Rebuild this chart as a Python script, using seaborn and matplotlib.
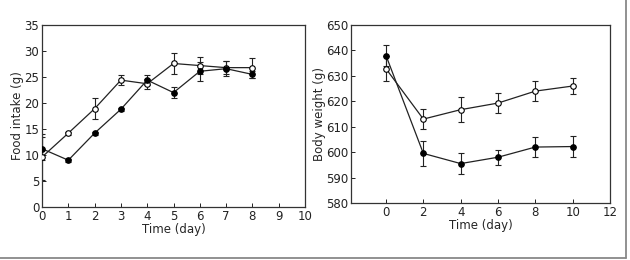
import matplotlib
matplotlib.use('Agg')
import matplotlib.pyplot as plt
import seaborn as sns
import pandas as pd
import numpy as np
from matplotlib.lines import Line2D

# food intake, days 0-8
days_food = [0, 1, 2, 3, 4, 5, 6, 7, 8]
food_filled = [11.2, 9.0, 14.2, 18.8, 24.4, 22.0, 26.1, 26.6, 25.5]
food_filled_err = [2.2, 0.3, 0.3, 0.3, 1.0, 1.0, 1.8, 1.4, 0.6]
food_open = [9.6, 14.2, 18.9, 24.4, 23.7, 27.6, 27.2, 26.8, 26.8]
food_open_err = [4.5, 0.3, 2.0, 0.9, 1.0, 2.0, 1.7, 1.3, 1.9]

# body weight, days 0-10
days_bw = [0, 2, 4, 6, 8, 10]
bw_open = [632.8, 613.0, 616.7, 619.3, 624.0, 626.0]
bw_open_err = [5.0, 4.0, 5.0, 4.0, 4.0, 3.0]
bw_filled = [638.0, 599.5, 595.5, 598.0, 602.0, 602.2]
bw_filled_err = [4.0, 5.0, 4.0, 3.0, 4.0, 4.0]

sns.set_style('ticks')
plt.rcParams['font.family'] = ['DejaVu Sans']
plt.rcParams['font.size'] = 8.5

fig = plt.figure(figsize=(6.3, 2.6), dpi=100)
ax1 = fig.add_axes([42/630, 1-207/260, 263/630, 182/260])
ax2 = fig.add_axes([351/630, 1-203/260, 259/630, 178/260])


def draw(ax, x, y, e, filled):
    ax.errorbar(x, y, yerr=e, fmt='none', ecolor='#222222', elinewidth=0.8,
                capsize=2, capthick=0.8, zorder=2)
    sns.lineplot(x=x, y=y, ax=ax, color='#222222', lw=0.9, marker='o',
                 markersize=4, markerfacecolor='black' if filled else 'white',
                 markeredgecolor='black', markeredgewidth=0.8, zorder=3)


draw(ax1, days_food, food_open, food_open_err, False)
draw(ax1, days_food, food_filled, food_filled_err, True)
draw(ax2, days_bw, bw_open, bw_open_err, False)
draw(ax2, days_bw, bw_filled, bw_filled_err, True)

ax1.set_xlim(0, 10)
ax1.set_ylim(0, 35)
ax1.set_xticks(range(0, 11))
ax1.set_yticks(range(0, 36, 5))
ax1.set_xlabel('Time (day)', labelpad=0)
ax1.set_ylabel('Food intake (g)', labelpad=0)

ax2.set_xlim(-1.875, 12)
ax2.set_ylim(580, 650)
ax2.set_xticks(range(0, 13, 2))
ax2.set_yticks(range(580, 651, 10))
ax2.set_xlabel('Time (day)', labelpad=0)
ax2.set_ylabel('Body weight (g)', labelpad=0)

for ax in (ax1, ax2):
    for s in ax.spines.values():
        s.set_linewidth(0.9)
        s.set_color('#333333')
    ax.tick_params(direction='in', length=3, width=0.7, pad=2,
                   labelsize=8.5, colors='#222222')

# grey frame around the figure
fig.add_artist(Line2D([0, 626/630], [2/260, 2/260], color='#888888', lw=1.3,
                      transform=fig.transFigure))
fig.add_artist(Line2D([626/630, 626/630], [2/260, 1], color='#888888', lw=1.3,
                      transform=fig.transFigure))

fig.savefig('out.png', dpi=100)
